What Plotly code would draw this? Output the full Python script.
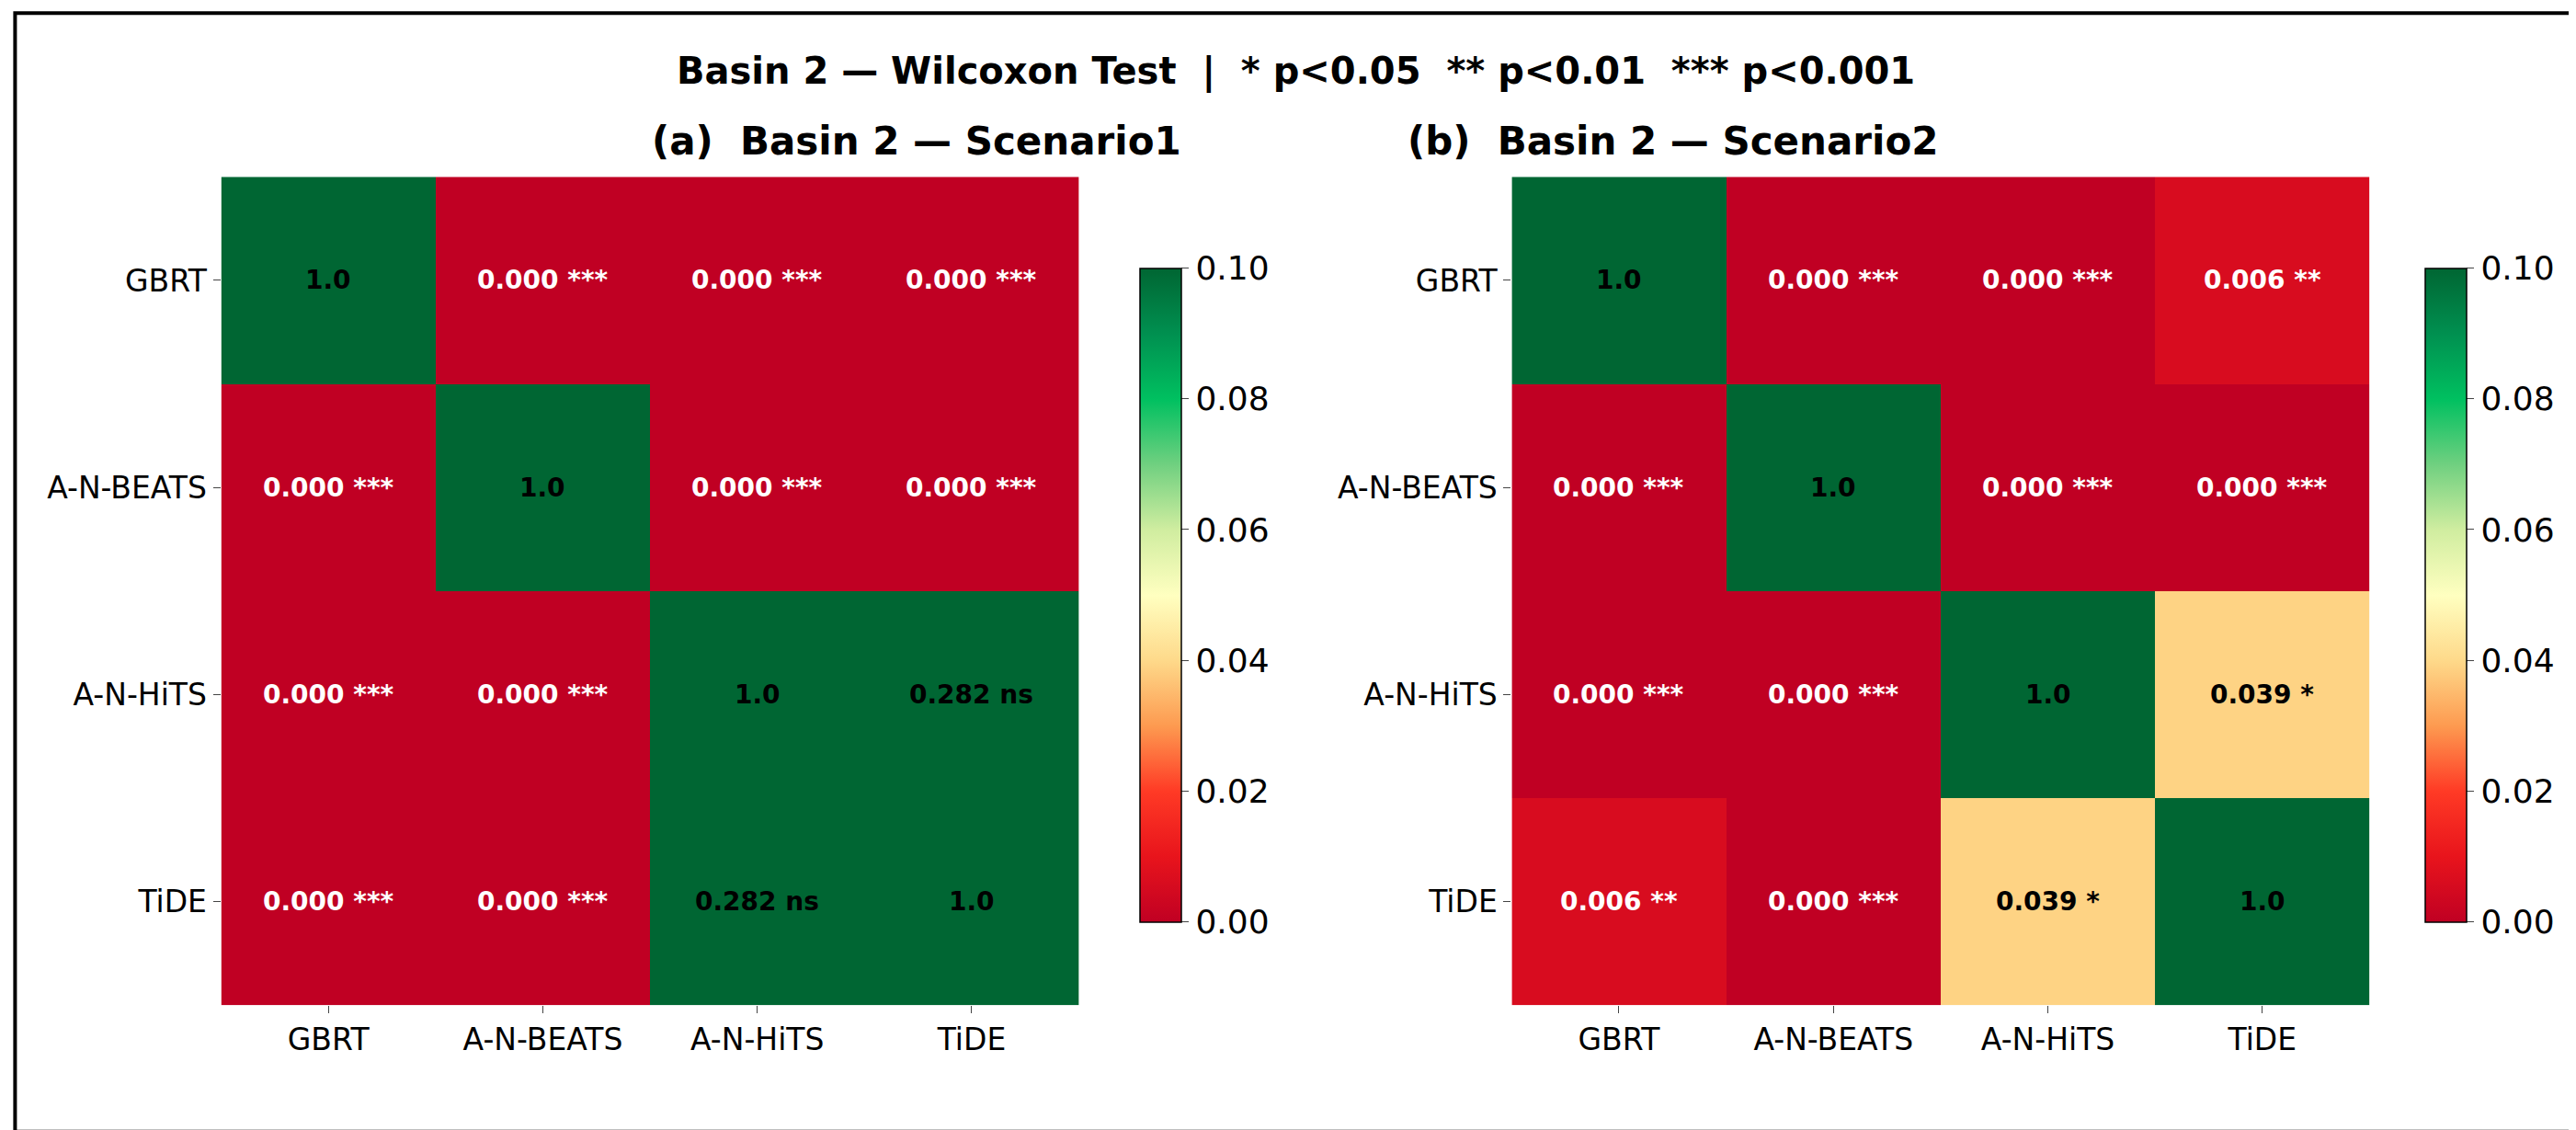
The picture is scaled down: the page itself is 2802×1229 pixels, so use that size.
import plotly.graph_objects as go

models = ["GBRT", "A-N-BEATS", "A-N-HiTS", "TiDE"]

# p-values (Wilcoxon), rows/cols in model order
p_s1 = [
    [1.0, 0.000, 0.000, 0.000],
    [0.000, 1.0, 0.000, 0.000],
    [0.000, 0.000, 1.0, 0.282],
    [0.000, 0.000, 0.282, 1.0],
]
p_s2 = [
    [1.0, 0.000, 0.000, 0.006],
    [0.000, 1.0, 0.000, 0.000],
    [0.000, 0.000, 1.0, 0.039],
    [0.006, 0.000, 0.039, 1.0],
]

W, H = 2802, 1229
colorscale = [
    [0.0, "#c00023"], [0.1, "#e8141c"], [0.2, "#ff3a25"], [0.3, "#fd9a50"],
    [0.4, "#fed98a"], [0.5, "#ffffc0"], [0.6, "#d0eda0"], [0.7, "#70d080"],
    [0.8, "#00c060"], [0.9, "#009050"], [1.0, "#006633"],
]


def stars(p):
    if p < 0.001:
        return "***"
    if p < 0.01:
        return "**"
    if p < 0.05:
        return "*"
    return "ns"


fig = go.Figure()
panels = [(p_s1, "x", "y", 0.083, 0.416, 0.436), (p_s2, "x2", "y2", 0.584, 0.917, 0.935)]
annotations = []
for z, xa, ya, d0, d1, cbx in panels:
    fig.add_trace(go.Heatmap(
        z=z, x=models, y=models, xaxis=xa, yaxis=ya,
        zmin=0, zmax=0.1, colorscale=colorscale, xgap=0, ygap=0,
        hoverinfo="skip",
        colorbar=dict(x=cbx, xanchor="left", y=0.48, len=0.595, thickness=45,
                      tickvals=[0, 0.02, 0.04, 0.06, 0.08, 0.1],
                      ticktext=["0.00", "0.02", "0.04", "0.06", "0.08", "0.10"],
                      ticks="outside", ticklen=8, outlinewidth=1.5, outlinecolor="black",
                      tickfont=dict(size=36, color="black")),
    ))
    for i, r in enumerate(models):
        for j, c in enumerate(models):
            p = z[i][j]
            txt = "1.0" if i == j else f"{p:.3f} {stars(p)}"
            col = "white" if p < 0.02 else "black"
            annotations.append(dict(x=c, y=r, xref=xa, yref=ya, text=f"<b>{txt}</b>",
                                    showarrow=False, font=dict(size=28, color=col)))
    axn = "" if xa == "x" else "2"
    fig.layout["xaxis" + axn] = dict(domain=[d0, d1], anchor=ya, showgrid=False,
                                     ticks="outside", ticklen=8, tickfont=dict(size=33, color="black"),
                                     showline=False, zeroline=False)
    fig.layout["yaxis" + axn] = dict(domain=[0.117, 0.850], anchor=xa, showgrid=False,
                                     autorange="reversed", ticks="outside", ticklen=8,
                                     tickfont=dict(size=33, color="black"), zeroline=False)

annotations += [
    dict(x=0.5, y=1 - 70 / H, xref="paper", yref="paper", showarrow=False, yanchor="middle",
         text="<b>Basin 2 — Wilcoxon Test  |  * p<0.05  ** p<0.01  *** p<0.001</b>",
         font=dict(size=40, color="black")),
    dict(x=0.2495, y=1 - 145 / H, xref="paper", yref="paper", showarrow=False, yanchor="middle",
         text="<b>(a)  Basin 2 — Scenario1</b>", font=dict(size=42, color="black")),
    dict(x=0.7505, y=1 - 145 / H, xref="paper", yref="paper", showarrow=False, yanchor="middle",
         text="<b>(b)  Basin 2 — Scenario2</b>", font=dict(size=42, color="black")),
]

fig.update_layout(
    width=W, height=H, margin=dict(l=0, r=0, t=0, b=0),
    paper_bgcolor="white", plot_bgcolor="white",
    font=dict(family="DejaVu Sans", color="black"),
    annotations=annotations,
    shapes=[dict(type="rect", xref="paper", yref="paper", x0=0.003, x1=0.997,
                 y0=0.005, y1=0.995, line=dict(color="black", width=4))],
)

fig.write_html("out.html")
